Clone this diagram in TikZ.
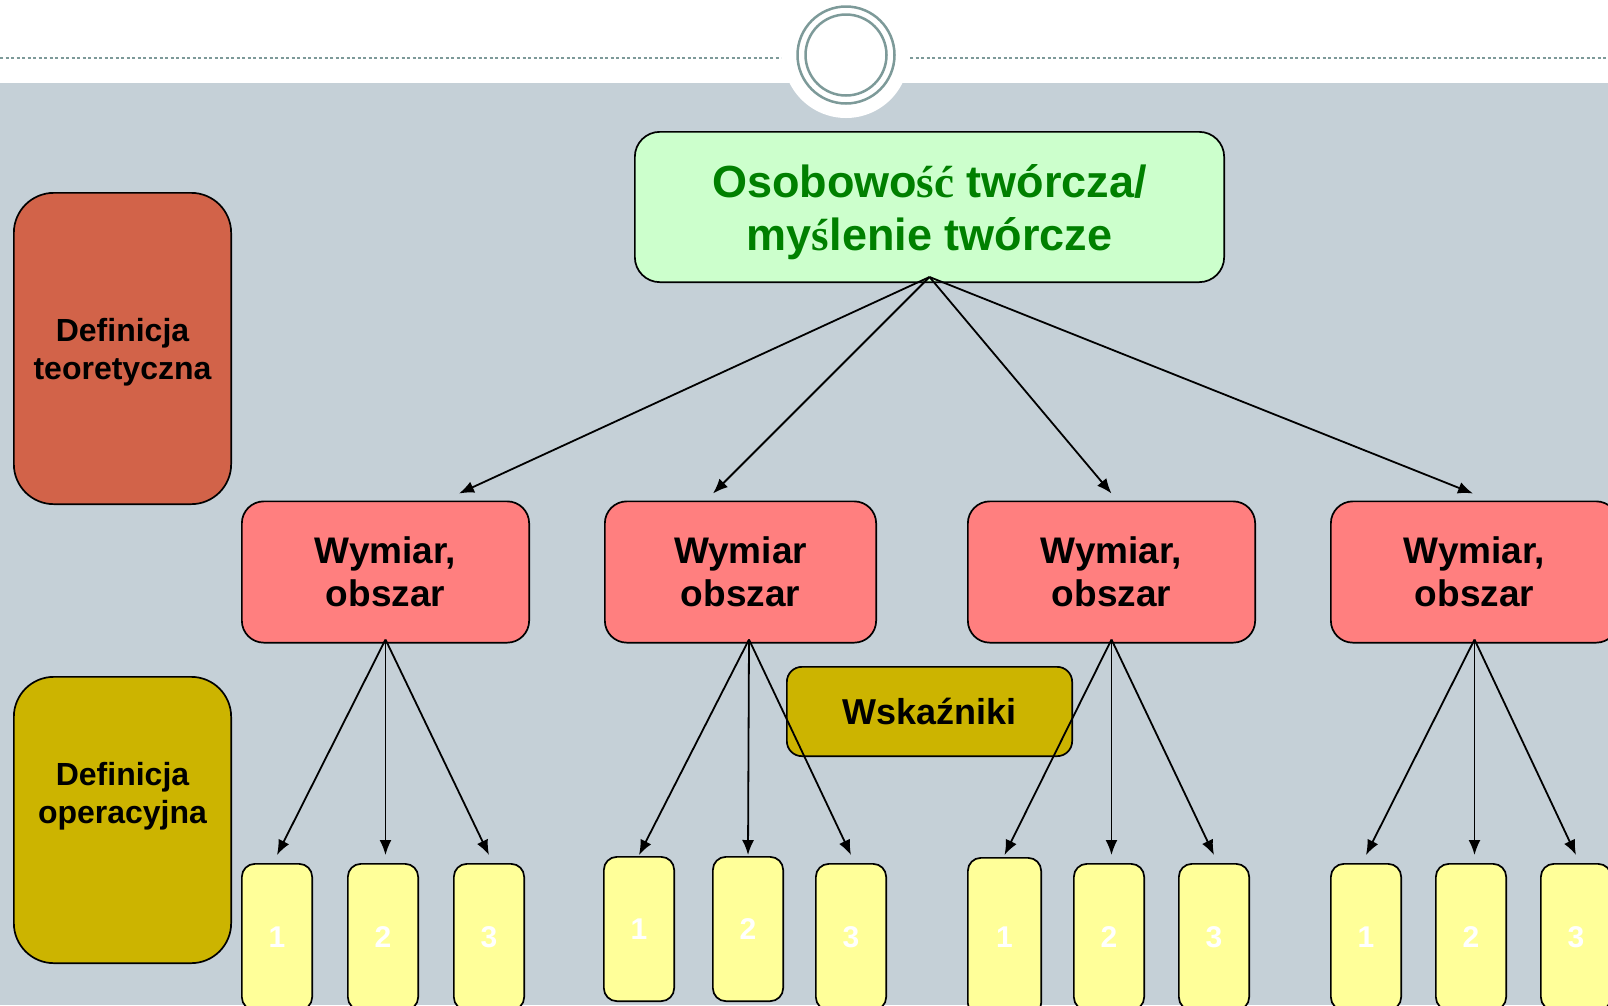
\documentclass[tikz,border=0pt]{standalone}
\usepackage{fontspec}
\setmainfont{Liberation Sans}
\newfontfamily\plserif{Liberation Serif}
\usetikzlibrary{arrows.meta, positioning}
\definecolor{mback}{HTML}{C5D0D7}
\definecolor{mring}{HTML}{7D9A99}
\definecolor{mlgreen}{HTML}{CCFFCC}
\definecolor{mdgreen}{HTML}{008000}
\definecolor{mred}{HTML}{FF7F7F}
\definecolor{mbrick}{HTML}{D26349}
\definecolor{molive}{HTML}{CCB400}
\definecolor{myellow}{HTML}{FFFF99}
\tikzstyle{concept} = [rectangle, rounded corners=25pt, draw, line width=1.7pt, minimum width=589.3pt, minimum height=150.3pt, inner sep=0pt, align=center, text depth=0pt, fill=mlgreen, text=mdgreen, font=\fontsize{45}{53}\selectfont\bfseries]
\tikzstyle{level} = [rectangle, rounded corners=40pt, draw, line width=1.7pt, minimum width=217.3pt, inner sep=0pt, align=center, text depth=0pt, font=\fontsize{32}{38}\selectfont\bfseries]
\tikzstyle{leveltext} = [align=center, text depth=0pt, font=\fontsize{32}{38}\selectfont\bfseries]
\tikzstyle{dimension} = [rectangle, rounded corners=22pt, draw, line width=1.7pt, minimum width=287.3pt, minimum height=141.3pt, inner sep=0pt, align=center, fill=mred, font=\fontsize{37}{43}\selectfont\bfseries]
\tikzstyle{marker} = [rectangle, rounded corners=15pt, draw, line width=1.7pt, minimum width=285.3pt, minimum height=89.3pt, inner sep=0pt, fill=molive, font=\fontsize{36}{43}\selectfont\bfseries]
\tikzstyle{indicator} = [rectangle, rounded corners=13pt, draw, line width=1.7pt, minimum width=70.3pt, minimum height=146.3pt, inner sep=0pt, fill=myellow, text=white, font=\fontsize{30}{36}\selectfont\bfseries]
\tikzstyle{link} = [line width=1.8pt, -{Latex[length=15pt,width=12pt]}]

\begin{document}
\begin{tikzpicture}[x=1pt, y=-1pt, node distance=34pt]
\clip (0,0) rectangle (1608,1005);
%Header and background
\fill[white] (0,0) rectangle (1608,1005);
\fill[mback] (0,83) rectangle (1608,1005);
\fill[white] (846,55) circle[radius=63pt];
\draw[mring, line width=2.2pt, dash pattern=on 3pt off 2.5pt] (0,58) -- (781,58);
\draw[mring, line width=2.2pt, dash pattern=on 3pt off 2.5pt] (910,58) -- (1608,58);
\draw[mring, line width=2.5pt] (846,55) circle[radius=48.5pt];
\draw[mring, line width=2.5pt] (846,55) circle[radius=40.5pt];
%Levels
\node (deftheory) [level, fill=mbrick, minimum height=311.3pt] at (122.5,348.5) {Definicja\\teoretyczna};
\node (defoper) [level, fill=molive, minimum height=286.3pt, label={[leveltext, yshift=27pt]center:{Definicja\\operacyjna}}] at (122.5,820) {};
%Concept and dimensions
\node (concept) [concept] at (929.5,207) {Osobowo{\plserif ść} twórcza/\\my{\plserif ś}lenie twórcze};
\node (dim1) [dimension] at (385.5,572) {Wymiar,\\obszar};
\node (dim2) [dimension, minimum width=271.3pt] at (740.5,572) {Wymiar\\obszar};
\node (dim3) [dimension] at (1111.5,572) {Wymiar,\\obszar};
\node (dim4) [dimension] at (1474.5,572) {Wymiar,\\obszar};
\node (wsk) [marker] at (929.5,711.5) {Wskaźniki};
%Indicators
\node (ind11) [indicator, anchor=north west] at (241,863) {1};
\node (ind12) [indicator, right = of ind11] {2};
\node (ind13) [indicator, right = of ind12] {3};
\node (ind21) [indicator, anchor=north west, minimum height=144.3pt] at (603,856) {1};
\node (ind22) [indicator, minimum height=144.3pt, right = 37pt of ind21] {2};
\node (ind23) [indicator, right = 31pt of ind22, yshift=-8pt] {3};
\node (ind31) [indicator, anchor=north west, minimum width=73.3pt, minimum height=158.3pt] at (967,857) {1};
\node (ind32) [indicator, right = 31pt of ind31] {2};
\node (ind33) [indicator, right = 33pt of ind32] {3};
\node (ind41) [indicator, anchor=north west] at (1330,863) {1};
\node (ind42) [indicator, right = 33pt of ind41] {2};
\node (ind43) [indicator, right = 33pt of ind42] {3};
%Arrows
\coordinate (lowtip) at (0,855);
\draw [link] ([yshift=6pt]concept.south) -- ([xshift=73.5pt,yshift=7pt]dim1.north);
\draw [link] ([yshift=6pt]concept.south) -- ([xshift=-27.5pt,yshift=7pt]dim2.north);
\draw [link] ([yshift=6pt]concept.south) -- ([yshift=7pt]dim3.north);
\draw [link] ([yshift=6pt]concept.south) -- ([xshift=-1.5pt,yshift=7pt]dim4.north);
\draw [link] ([yshift=4pt]dim1.south) -- (ind11.north |- lowtip);
\draw [link] ([yshift=4pt]dim1.south) -- (lowtip -| dim1.south);
\draw [link] ([yshift=4pt]dim1.south) -- (ind13.north |- lowtip);
\draw [link] ([xshift=8.5pt,yshift=4pt]dim2.south) -- (ind21.north |- lowtip);
\draw [link] ([xshift=8.5pt,yshift=4pt]dim2.south) -- (ind22.north |- lowtip);
\draw [link] ([xshift=8.5pt,yshift=4pt]dim2.south) -- (ind23.north |- lowtip);
\draw [link] ([yshift=4pt]dim3.south) -- (ind31.north |- lowtip);
\draw [link] ([yshift=4pt]dim3.south) -- (lowtip -| dim3.south);
\draw [link] ([yshift=4pt]dim3.south) -- (ind33.north |- lowtip);
\draw [link] ([yshift=4pt]dim4.south) -- (ind41.north |- lowtip);
\draw [link] ([yshift=4pt]dim4.south) -- (lowtip -| dim4.south);
\draw [link] ([yshift=4pt]dim4.south) -- (ind43.north |- lowtip);
\end{tikzpicture}
\end{document}
